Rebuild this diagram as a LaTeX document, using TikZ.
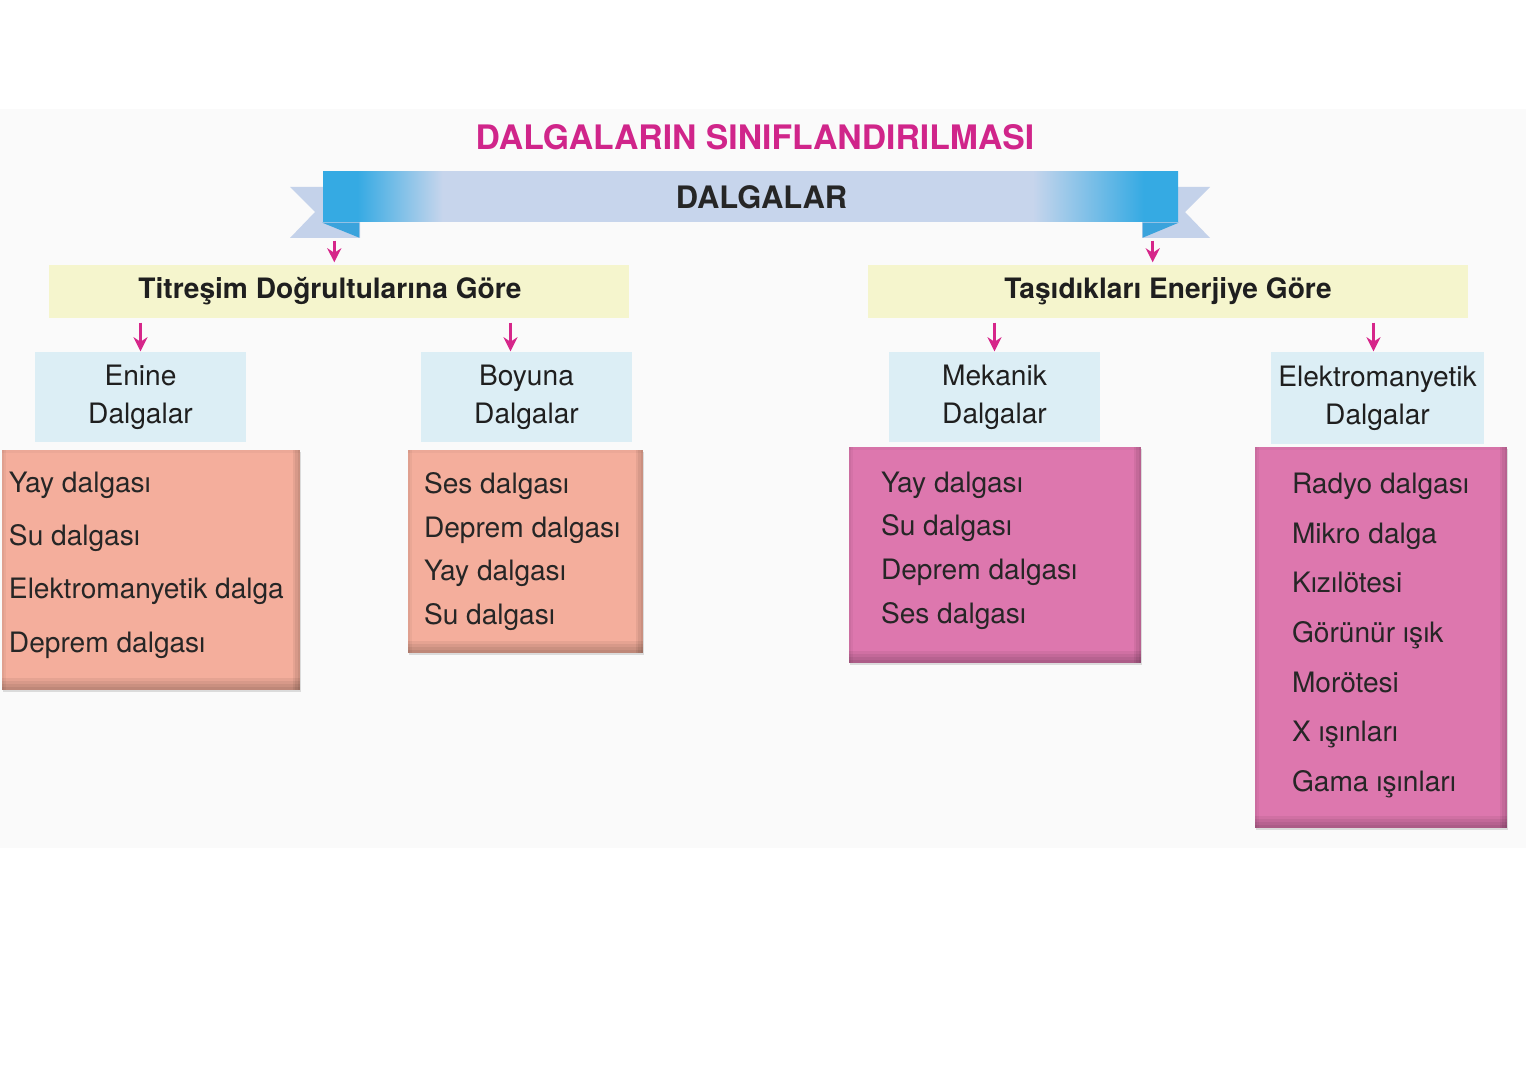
\documentclass[tikz,border=0pt]{standalone}
\usepackage{fontspec}
\setmainfont{TeX Gyre Heros}
\usetikzlibrary{positioning,arrows.meta,calc,shadows}
\definecolor{cBaslik}{HTML}{D0258A}
\definecolor{cOk}{HTML}{D6268A}
\definecolor{cMavi}{HTML}{35AAE3}
\definecolor{cKoyuMavi}{HTML}{3AA3DC}
\definecolor{cLavanta}{HTML}{C7D5EC}
\definecolor{cKuyruk}{HTML}{C4D2EA}
\definecolor{cSari}{HTML}{F5F5CD}
\definecolor{cAcikMavi}{HTML}{DCEEF5}
\definecolor{cSomon}{HTML}{F4AE9C}
\definecolor{cPembe}{HTML}{DD77AE}
\definecolor{cZemin}{HTML}{FAFAFA}
\pgfdeclarehorizontalshading{serit}{100bp}{color(0bp)=(cMavi); color(27bp)=(cMavi);
  color(32bp)=(cLavanta); color(66.5bp)=(cLavanta); color(73bp)=(cMavi); color(100bp)=(cMavi)}
\tikzset{
  blk/.style={inner sep=0pt, align=center, text=black!88},
  kat/.style={blk, fill=cSari, minimum height=0.53cm,
              font=\bfseries\fontsize{8}{9.6}\selectfont},
  tur/.style={blk, fill=cAcikMavi, minimum height=0.90cm,
              font=\fontsize{8}{10.8}\selectfont},
  liste/.style={blk, fill=#1,
              drop shadow={shadow xshift=0.4pt, shadow yshift=-0.6pt, opacity=0.25},
              path picture={
                \foreach \d in {0.03,0.06,0.09,0.12}
                  \fill[black, opacity=0.06] (path picture bounding box.south west)
                    rectangle ([yshift=\d cm]path picture bounding box.south east);
                \foreach \d in {0.025,0.05,0.075}
                  \fill[black, opacity=0.06] (path picture bounding box.south east)
                    rectangle ([xshift=-\d cm]path picture bounding box.north east);
                \foreach \d in {0.02,0.04}
                  \fill[black, opacity=0.04] (path picture bounding box.north west)
                    rectangle ([xshift=\d cm]path picture bounding box.south west);
                \fill[black, opacity=0.03] (path picture bounding box.north west)
                  rectangle ([yshift=-0.03cm]path picture bounding box.north east);
              }},
  yazi/.style={inner sep=0pt, anchor=west, align=left, text=black!85},
  ar/.style={-{Stealth[length=4pt,width=4pt]}, line width=0.8pt, cOk},
}

\begin{document}
\begin{tikzpicture}
  \fill[white] (0,0) rectangle (15.26,-10.80);
  \fill[cZemin] (0,-1.09) rectangle (15.26,-8.48);
  \useasboundingbox (0,0) rectangle (15.26,-10.80);

  % baslik ve serit
  \node[font=\bfseries\fontsize{9.6}{11}\selectfont, text=cBaslik] (baslik) at (7.55,-1.37)
    {DALGALARIN SINIFLANDIRILMASI};
  \fill[cKuyruk] (3.23,-1.87) -- (2.90,-1.87) -- (3.15,-2.12) -- (2.90,-2.38)
    -- (3.60,-2.38) -- (3.60,-2.22) -- (3.23,-2.22) -- cycle;
  \fill[cKuyruk] (11.78,-1.87) -- (12.10,-1.87) -- (11.85,-2.12) -- (12.10,-2.38)
    -- (11.42,-2.38) -- (11.42,-2.22) -- (11.78,-2.22) -- cycle;
  \node[blk, shade, shading=serit, minimum width=8.55cm, minimum height=0.50cm]
    (dalgalar) at (7.505,-1.97) {};
  \node[font=\bfseries\fontsize{8.8}{10}\selectfont, text=black!85] (dalgaYazi)
    at ($(dalgalar)+(0.11,0)$) {DALGALAR};
  \fill[cKoyuMavi] (dalgalar.south west) -- ++(0.37,-0.15) -- ++(0,0.15) -- cycle;
  \fill[cKoyuMavi] (dalgalar.south east) -- ++(-0.36,-0.15) -- ++(0,0.15) -- cycle;

  % siniflar
  \node[kat, minimum width=5.80cm] (kat1) at (3.39,-2.915) {};
  \node[font=\bfseries\fontsize{8}{9.6}\selectfont, text=black!88] (kat1Yazi)
    at ($(kat1)+(-0.09,0)$) {Titreşim Doğrultularına Göre};
  \node[kat, minimum width=6.00cm] (kat2) at (11.68,-2.915) {Taşıdıkları Enerjiye Göre};

  \coordinate (solUc) at ($(dalgalar.south west)+(0.12,-0.18)$);
  \coordinate (sagUc) at ($(dalgalar.south east)+(-0.26,-0.18)$);
  \draw[ar] (solUc) -- ($(solUc |- kat1.north)+(0,0.02)$);
  \draw[ar] (sagUc) -- ($(sagUc |- kat2.north)+(0,0.02)$);

  % dalga turleri
  \node[tur, minimum width=2.11cm] (enine)   at (1.405,-3.97)  {Enine\\Dalgalar};
  \node[tur, minimum width=2.11cm] (boyuna)  at (5.265,-3.97)  {Boyuna\\Dalgalar};
  \node[tur, minimum width=2.11cm] (mekanik) at (9.945,-3.97)  {Mekanik\\Dalgalar};
  \node[tur, minimum width=2.13cm, minimum height=0.92cm] (elektro) at (13.775,-3.98)
    {Elektromanyetik\\Dalgalar};

  \draw[ar] ($(kat1.south -| enine.north)+(0,-0.04)$) -- (enine.north);
  \draw[ar] ($(kat1.south -| boyuna.north)+(-0.16,-0.04)$) -- ($(boyuna.north)+(-0.16,0)$);
  \draw[ar] ($(kat2.south -| mekanik.north)+(0,-0.04)$) -- (mekanik.north);
  \draw[ar] ($(kat2.south -| elektro.north)+(-0.04,-0.04)$) -- ($(elektro.north)+(-0.04,0)$);

  % ornek listeleri
  \node[liste=cSomon, minimum width=2.98cm, minimum height=2.40cm] (enineL) at (1.51,-5.70) {};
  \node[liste=cSomon, minimum width=2.35cm, minimum height=2.03cm] (boyunaL) at (5.255,-5.515) {};
  \node[liste=cPembe, minimum width=2.92cm, minimum height=2.16cm] (mekanikL) at (9.95,-5.55) {};
  \node[liste=cPembe, minimum width=2.52cm, minimum height=3.81cm] (elektroL) at (13.81,-6.375) {};

  \node[yazi, font=\fontsize{8}{15.2}\selectfont] (enineY) at ($(enineL.west)+(0.07,0.05)$)
    {Yay dalgası\\Su dalgası\\Elektromanyetik dalga\\Deprem dalgası};
  \node[yazi, font=\fontsize{8}{12.4}\selectfont] (boyunaY) at ($(boyunaL.west)+(0.16,0)$)
    {Ses dalgası\\Deprem dalgası\\Yay dalgası\\Su dalgası};
  \node[yazi, font=\fontsize{8}{12.4}\selectfont] (mekanikY) at ($(mekanikL.west)+(0.32,0.045)$)
    {Yay dalgası\\Su dalgası\\Deprem dalgası\\Ses dalgası};
  \node[yazi, font=\fontsize{8}{14.1}\selectfont] (elektroY) at ($(elektroL.west)+(0.37,0.02)$)
    {Radyo dalgası\\Mikro dalga\\Kızılötesi\\Görünür ışık\\Morötesi\\X ışınları\\Gama ışınları};
\end{tikzpicture}
\end{document}
